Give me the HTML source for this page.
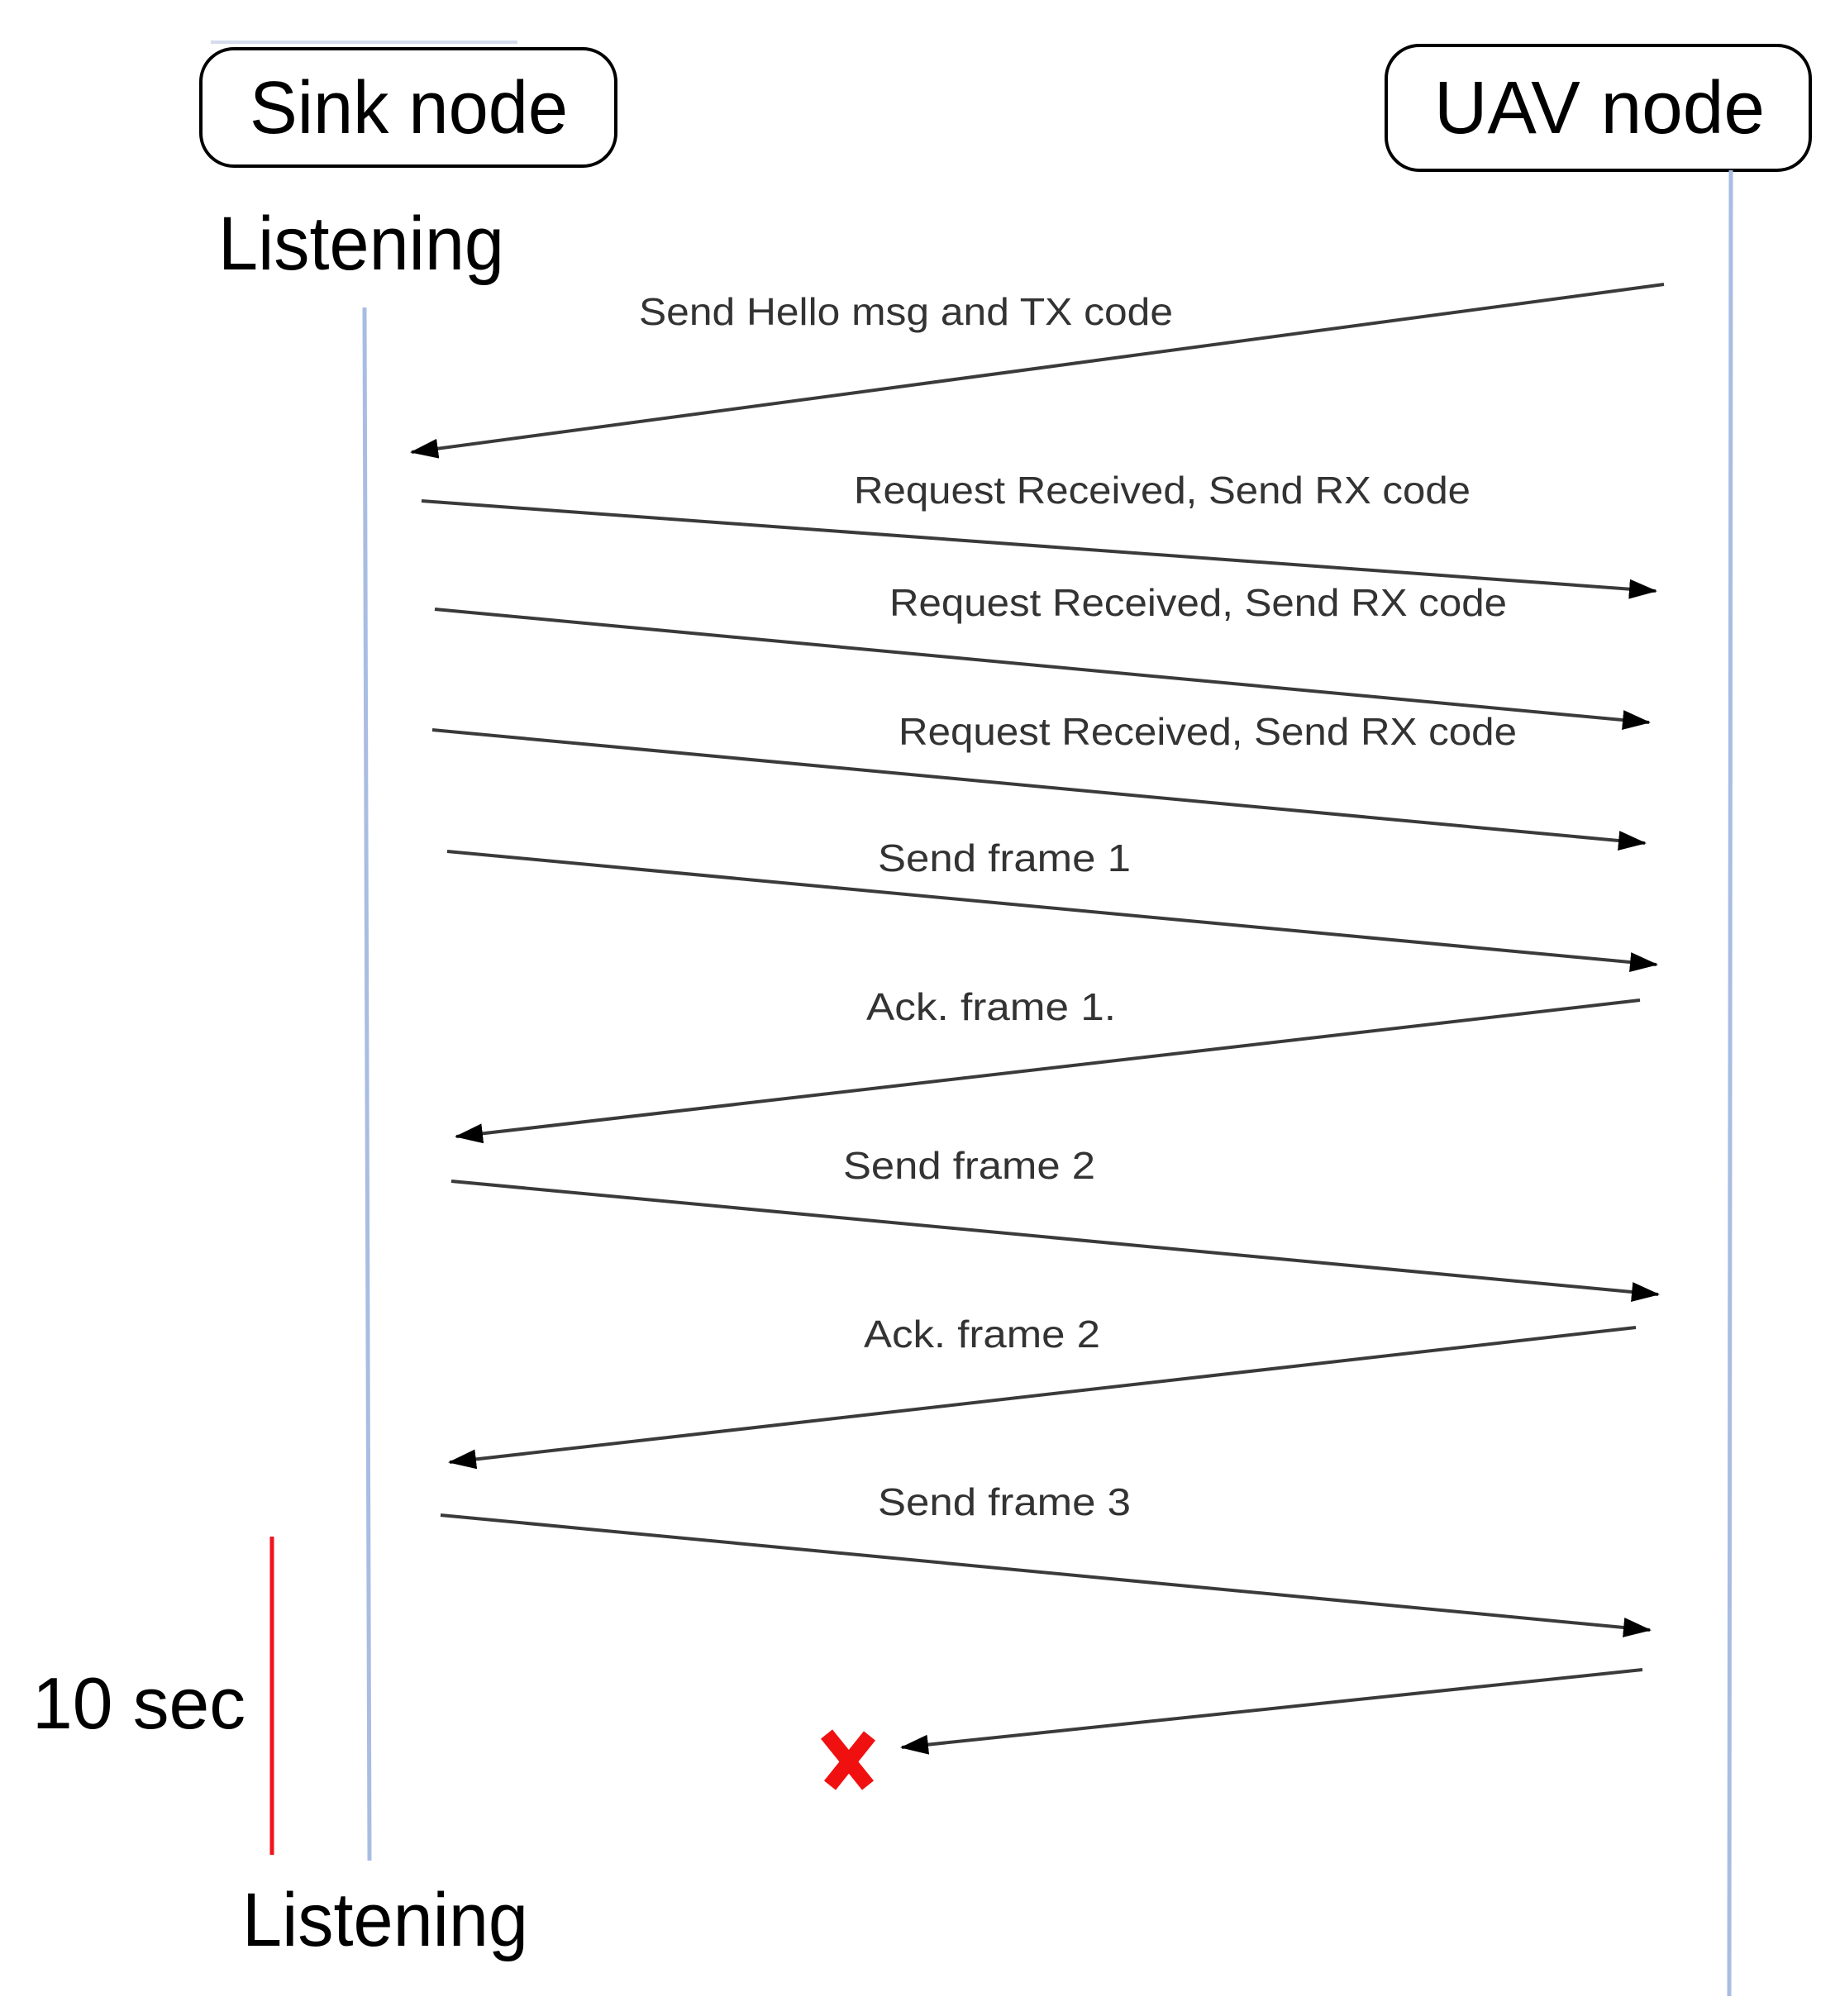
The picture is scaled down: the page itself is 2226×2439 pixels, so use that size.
<!DOCTYPE html>
<html><head><meta charset="utf-8"><style>
html,body{margin:0;padding:0;background:#fff;}
svg{display:block;}
</style></head><body>
<svg width="2226" height="2439" viewBox="0 0 2226 2439" xmlns="http://www.w3.org/2000/svg">
<defs>
<marker id="ah" markerWidth="34" markerHeight="28" refX="32" refY="14" orient="auto" markerUnits="userSpaceOnUse">
<path d="M0,2 L34,14 L0,26 Z" fill="#000"/>
</marker>
</defs>
<rect width="2226" height="2439" fill="#fff"/>
<line x1="255" y1="51" x2="626" y2="51" stroke="#d5dcec" stroke-width="4"/>
<rect x="243" y="59" width="502" height="142" rx="40" fill="none" stroke="#000" stroke-width="4"/>
<rect x="1677" y="55" width="513" height="151" rx="40" fill="none" stroke="#000" stroke-width="4"/>
<g font-family="Liberation Sans, sans-serif" fill="#000">
<text x="302" y="161" font-size="90" textLength="385" lengthAdjust="spacingAndGlyphs">Sink node</text>
<text x="1735" y="161" font-size="90" textLength="400" lengthAdjust="spacingAndGlyphs">UAV node</text>
<text x="264" y="326" font-size="92" textLength="346" lengthAdjust="spacingAndGlyphs">Listening</text>
<text x="293" y="2354" font-size="92" textLength="346" lengthAdjust="spacingAndGlyphs">Listening</text>
<text x="39" y="2091" font-size="88" textLength="258" lengthAdjust="spacingAndGlyphs">10 sec</text>
</g>
<line x1="441" y1="372" x2="447" y2="2251" stroke="#a9bde3" stroke-width="5"/>
<line x1="2094" y1="206" x2="2092" y2="2415" stroke="#a9bde3" stroke-width="5"/>
<line x1="329" y1="1859" x2="329" y2="2244" stroke="#f0141e" stroke-width="5"/>
<g stroke="#3a3a3a" stroke-width="4" fill="none" marker-end="url(#ah)">
<line x1="2013" y1="344" x2="498" y2="547"/>
<line x1="510" y1="606" x2="2003" y2="715"/>
<line x1="526" y1="737" x2="1995" y2="874"/>
<line x1="523" y1="883" x2="1990" y2="1020"/>
<line x1="541" y1="1030" x2="2004" y2="1167"/>
<line x1="1984" y1="1210" x2="552" y2="1375"/>
<line x1="546" y1="1429" x2="2006" y2="1566"/>
<line x1="1979" y1="1606" x2="544" y2="1769"/>
<line x1="533" y1="1833" x2="1996" y2="1972"/>
<line x1="1987" y1="2020" x2="1091" y2="2114"/>
</g>
<g font-family="Liberation Sans, sans-serif" fill="#333" font-size="46">
<text x="773" y="393" textLength="646" lengthAdjust="spacingAndGlyphs">Send Hello msg and TX code</text>
<text x="1033" y="609" textLength="746" lengthAdjust="spacingAndGlyphs">Request Received, Send RX code</text>
<text x="1076" y="745" textLength="747" lengthAdjust="spacingAndGlyphs">Request Received, Send RX code</text>
<text x="1087" y="901" textLength="748" lengthAdjust="spacingAndGlyphs">Request Received, Send RX code</text>
<text x="1062" y="1054" textLength="306" lengthAdjust="spacingAndGlyphs">Send frame 1</text>
<text x="1048" y="1234" textLength="302" lengthAdjust="spacingAndGlyphs">Ack. frame 1.</text>
<text x="1020" y="1426" textLength="305" lengthAdjust="spacingAndGlyphs">Send frame 2</text>
<text x="1045" y="1630" textLength="286" lengthAdjust="spacingAndGlyphs">Ack. frame 2</text>
<text x="1062" y="1833" textLength="306" lengthAdjust="spacingAndGlyphs">Send frame 3</text>
</g>
<g stroke="#f01010" stroke-width="18" stroke-linecap="butt">
<line x1="1000" y1="2098" x2="1050" y2="2160"/>
<line x1="1052" y1="2100" x2="1004" y2="2160"/>
</g>
</svg>
</body></html>
